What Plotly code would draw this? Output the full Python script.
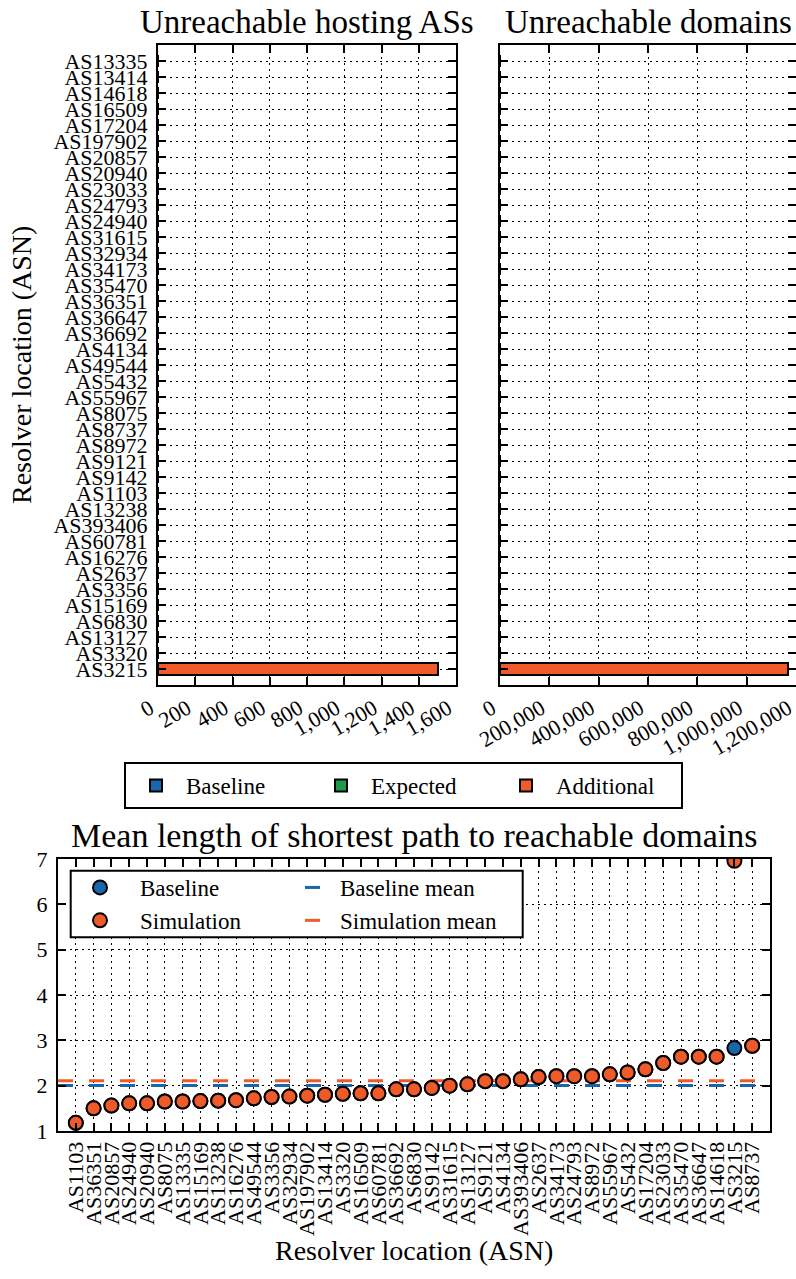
import plotly.graph_objects as go

FONT = "Liberation Serif"
W, H = 796, 1279

BLUE = "#1a66ad"
GREEN = "#1b9a4f"
ORANGE = "#ef5a2a"

# Resolver locations on the two unreachability panels (top to bottom)
resolver_asns = [
    "AS13335", "AS13414", "AS14618", "AS16509", "AS17204", "AS197902",
    "AS20857", "AS20940", "AS23033", "AS24793", "AS24940", "AS31615",
    "AS32934", "AS34173", "AS35470", "AS36351", "AS36647", "AS36692",
    "AS4134", "AS49544", "AS5432", "AS55967", "AS8075", "AS8737",
    "AS8972", "AS9121", "AS9142", "AS1103", "AS13238", "AS393406",
    "AS60781", "AS16276", "AS2637", "AS3356", "AS15169", "AS6830",
    "AS13127", "AS3320", "AS3215",
]

# Unreachable hosting ASs per resolver location
hosting_baseline = [0, 0, 0, 0, 0, 0, 0, 0, 0, 0, 0, 0, 0, 0, 0, 0, 0, 0, 0, 0,
                    0, 0, 0, 0, 0, 0, 0, 0, 0, 0, 0, 0, 0, 0, 0, 0, 0, 0, 0]
hosting_expected = [0, 0, 0, 0, 0, 0, 0, 0, 0, 0, 0, 0, 0, 0, 0, 0, 0, 0, 0, 0,
                    0, 0, 0, 0, 0, 0, 0, 0, 0, 0, 0, 0, 0, 0, 0, 0, 0, 0, 0]
hosting_additional = [0, 0, 0, 0, 0, 0, 0, 0, 0, 0, 0, 0, 0, 0, 0, 0, 0, 0, 0, 0,
                      0, 0, 0, 0, 0, 0, 0, 0, 0, 0, 0, 0, 0, 0, 0, 0, 0, 0, 1503]

# Unreachable domains per resolver location
domains_baseline = [0, 0, 0, 0, 0, 0, 0, 0, 0, 0, 0, 0, 0, 0, 0, 0, 0, 0, 0, 0,
                    0, 0, 0, 0, 0, 0, 0, 0, 0, 0, 0, 0, 0, 0, 0, 0, 0, 0, 0]
domains_expected = [0, 0, 0, 0, 0, 0, 0, 0, 0, 0, 0, 0, 0, 0, 0, 0, 0, 0, 0, 0,
                    0, 0, 0, 0, 0, 0, 0, 0, 0, 0, 0, 0, 0, 0, 0, 0, 0, 0, 0]
domains_additional = [0, 0, 0, 0, 0, 0, 0, 0, 0, 0, 0, 0, 0, 0, 0, 0, 0, 0, 0, 0,
                      0, 0, 0, 0, 0, 0, 0, 0, 0, 0, 0, 0, 0, 0, 0, 0, 0, 0, 1169000]

hosting_ticks = [0, 200, 400, 600, 800, 1000, 1200, 1400, 1600]
domain_ticks = [0, 200000, 400000, 600000, 800000, 1000000, 1200000]

# Mean shortest-path length, resolvers sorted by baseline value
path_asns = [
    "AS1103", "AS36351", "AS20857", "AS24940", "AS20940", "AS8075", "AS13335",
    "AS15169", "AS13238", "AS16276", "AS49544", "AS3356", "AS32934", "AS197902",
    "AS13414", "AS3320", "AS16509", "AS60781", "AS36692", "AS6830", "AS9142",
    "AS31615", "AS13127", "AS9121", "AS4134", "AS393406", "AS2637", "AS34173",
    "AS24793", "AS8972", "AS55967", "AS5432", "AS17204", "AS23033", "AS35470",
    "AS36647", "AS14618", "AS3215", "AS8737",
]
path_baseline = [
    1.18, 1.50, 1.56, 1.61, 1.61, 1.65, 1.65, 1.66, 1.67, 1.68, 1.72, 1.75, 1.76,
    1.78, 1.80, 1.82, 1.83, 1.83, 1.92, 1.92, 1.95, 2.00, 2.03, 2.10, 2.10, 2.14,
    2.19, 2.21, 2.21, 2.21, 2.25, 2.29, 2.36, 2.50, 2.64, 2.64, 2.64, 2.83, 2.88,
]
path_simulation = [
    1.18, 1.50, 1.56, 1.61, 1.61, 1.65, 1.65, 1.66, 1.67, 1.68, 1.72, 1.75, 1.76,
    1.78, 1.80, 1.82, 1.83, 1.83, 1.92, 1.92, 1.95, 2.00, 2.03, 2.10, 2.10, 2.14,
    2.19, 2.21, 2.21, 2.21, 2.25, 2.29, 2.36, 2.50, 2.64, 2.64, 2.64, 6.96, 2.88,
]
path_yticks = [1, 2, 3, 4, 5, 6, 7]


def px_x(x):
    return x / W


def px_y(y):
    return 1 - y / H


fig = go.Figure()

# ---- stacked horizontal bars: hosting ASs (left) and domains (right) ----
bar_series = [
    ("Baseline", BLUE, hosting_baseline, domains_baseline),
    ("Expected", GREEN, hosting_expected, domains_expected),
    ("Additional", ORANGE, hosting_additional, domains_additional),
]
for name, color, hosting, domains in bar_series:
    fig.add_trace(go.Bar(
        x=hosting, y=resolver_asns, orientation="h", name=name,
        marker=dict(color=color, line=dict(color="black", width=2)),
        xaxis="x", yaxis="y", legend="legend", showlegend=True,
    ))
    fig.add_trace(go.Bar(
        x=domains, y=resolver_asns, orientation="h", name=name,
        marker=dict(color=color, line=dict(color="black", width=2)),
        xaxis="x2", yaxis="y2", showlegend=False,
    ))

# ---- mean shortest-path panel ----
idx = list(range(len(path_asns)))
x_lo, x_hi = -1, len(path_asns)
base_mean = sum(path_baseline) / len(path_baseline)
sim_mean = sum(path_simulation) / len(path_simulation)

for name, color, mean in [("Baseline mean", BLUE, base_mean),
                          ("Simulation mean", ORANGE, sim_mean)]:
    fig.add_trace(go.Scatter(
        x=[x_lo, x_hi], y=[mean, mean], mode="lines", name=name,
        line=dict(color=color, width=3, dash="15px,16px"),
        xaxis="x3", yaxis="y3", legend="legend3",
    ))

for name, color, vals in [("Baseline", BLUE, path_baseline),
                          ("Simulation", ORANGE, path_simulation)]:
    fig.add_trace(go.Scatter(
        x=idx, y=vals, mode="markers", name=name,
        marker=dict(color=color, size=14, line=dict(color="black", width=2)),
        xaxis="x3", yaxis="y3", legend="legend2",
    ))

axis_style = dict(
    showline=True, linecolor="black", linewidth=2, mirror="ticks",
    ticks="inside", ticklen=8, tickwidth=1.5, tickcolor="black",
    showgrid=True, gridcolor="black", gridwidth=1, griddash="2px,4px",
    zeroline=False, automargin=False,
    tickfont=dict(family=FONT, size=22, color="black"),
)

top_y = [px_y(685), px_y(45)]
n_res = len(resolver_asns)

fig.update_layout(
    width=W, height=H,
    margin=dict(l=0, r=0, t=0, b=0, autoexpand=False),
    paper_bgcolor="white", plot_bgcolor="white",
    barmode="stack", bargap=0.2,
    font=dict(family=FONT, color="black"),
    xaxis=dict(axis_style, domain=[px_x(158), px_x(456)], anchor="y",
               range=[0, 1600], tickvals=hosting_ticks, tickformat=",d",
               tickangle=-30, ticklabeloverflow="allow", ticklabelshift=-8),
    yaxis=dict(axis_style, domain=top_y, anchor="x", type="category",
               categoryorder="array", categoryarray=resolver_asns,
               tickmode="array", tickvals=resolver_asns, ticktext=resolver_asns,
               range=[n_res, -1], ticklabelstandoff=4),
    xaxis2=dict(axis_style, domain=[px_x(500), 1.0], anchor="y2",
                range=[0, 1200000], tickvals=domain_ticks, tickformat=",d",
                tickangle=-30, ticklabeloverflow="allow", ticklabelshift=-8),
    yaxis2=dict(axis_style, domain=top_y, anchor="x2", type="category",
                categoryorder="array", categoryarray=resolver_asns,
                tickmode="array", tickvals=resolver_asns,
                range=[n_res, -1], showticklabels=False),
    xaxis3=dict(axis_style, domain=[px_x(58), px_x(770)], anchor="y3",
                range=[x_lo, x_hi], tickmode="array", tickvals=idx,
                ticktext=path_asns, tickangle=-90),
    yaxis3=dict(axis_style, domain=[px_y(1131), px_y(859)], anchor="x3",
                range=[1, 7], tickvals=path_yticks, ticklabelstandoff=4),
    legend=dict(
        orientation="h", x=px_x(124), xanchor="left", y=px_y(762), yanchor="top",
        bgcolor="white", bordercolor="black", borderwidth=2, traceorder="normal",
        font=dict(family=FONT, size=23, color="black"), itemwidth=50,
        entrywidth=120,
    ),
    legend2=dict(
        x=px_x(60), xanchor="left", y=px_y(866), yanchor="top",
        bgcolor="rgba(0,0,0,0)", borderwidth=0,
        font=dict(family=FONT, size=23, color="black"), itemwidth=70,
    ),
    legend3=dict(
        x=px_x(300), xanchor="left", y=px_y(866), yanchor="top",
        bgcolor="rgba(0,0,0,0)", borderwidth=0,
        font=dict(family=FONT, size=23, color="black"), itemwidth=30,
    ),
)

# frame shared by the two legend columns of the path panel
fig.add_shape(type="rect", xref="paper", yref="paper",
              x0=px_x(70.7), x1=px_x(522.7), y0=px_y(937.3), y1=px_y(870.7),
              fillcolor="white", line=dict(color="black", width=2), layer="above")

title_font = dict(family=FONT, size=33, color="black")
label_font = dict(family=FONT, size=28, color="black")
fig.add_annotation(text="Unreachable hosting ASs", xref="paper", yref="paper",
                   x=px_x((158 + 456) / 2), y=px_y(42), xanchor="center",
                   yanchor="bottom", showarrow=False, font=title_font)
fig.add_annotation(text="Unreachable domains", xref="paper", yref="paper",
                   x=px_x((500 + 797) / 2), y=px_y(42), xanchor="center",
                   yanchor="bottom", showarrow=False, font=title_font)
fig.add_annotation(text="Mean length of shortest path to reachable domains",
                   xref="paper", yref="paper", x=px_x((58 + 770) / 2),
                   y=px_y(856), xanchor="center", yanchor="bottom",
                   showarrow=False, font=dict(title_font, size=34))
fig.add_annotation(text="Resolver location (ASN)", xref="paper", yref="paper",
                   x=px_x(22), y=px_y(365), xanchor="center", yanchor="middle",
                   textangle=-90, showarrow=False, font=label_font)
fig.add_annotation(text="Resolver location (ASN)", xref="paper", yref="paper",
                   x=px_x((58 + 770) / 2), y=px_y(1268), xanchor="center",
                   yanchor="bottom", showarrow=False, font=label_font)

fig.write_html("out.html")
